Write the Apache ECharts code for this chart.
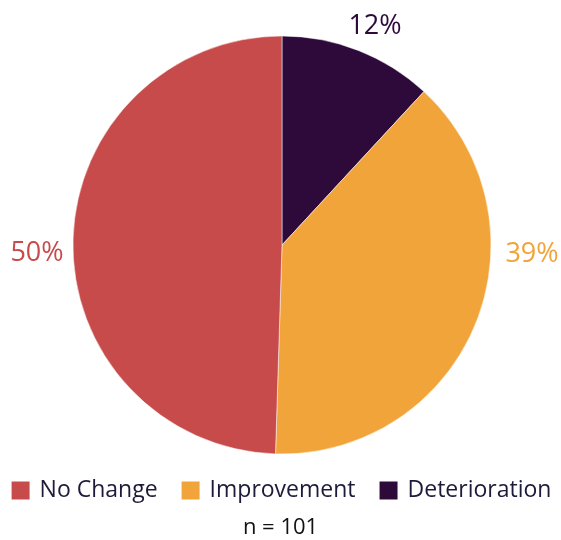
<!DOCTYPE html>
<html>
<head>
<meta charset="utf-8">
<script src="https://cdn.jsdelivr.net/npm/echarts@6/dist/echarts.min.js"></script>
<style>
  html, body { margin: 0; padding: 0; background: #fff; }
  #chart { width: 561px; height: 540px; }
</style>
</head>
<body>
<div id="chart"></div>
<script>
// Respondent counts per outcome, in drawing order (clockwise from 12 o'clock)
const categories = ['Deterioration', 'Improvement', 'No Change'];
const counts = [12, 39, 50];
const colors = ['#2E0A3A', '#F1A43A', '#C84B4B'];
const legendOrder = ['No Change', 'Improvement', 'Deterioration'];

const FONT = 'Open Sans';
const total = counts.reduce((a, b) => a + b, 0);

// Where each percentage label sits relative to the pie
const labelPlacement = {
  'Deterioration': { x: 375, y: 26 },
  'Improvement':   { x: 532, y: 254 },
  'No Change':     { x: 37,  y: 253 }
};

const chart = echarts.init(document.getElementById('chart'), null, { renderer: 'canvas' });

chart.setOption({
  animation: false,
  color: colors,
  title: {
    text: 'n = ' + total,
    left: 'center',
    top: 517,
    padding: 0,
    textStyle: { fontFamily: FONT, fontSize: 22, fontWeight: 'normal', color: '#111' }
  },
  legend: {
    data: legendOrder,
    left: 'center',
    top: 479,
    padding: 0,
    icon: 'rect',
    itemWidth: 20,
    itemHeight: 20,
    itemGap: 22,
    textStyle: { fontFamily: FONT, fontSize: 23, color: '#1E1B3A', padding: [0, 0, 0, 4] }
  },
  series: [{
    type: 'pie',
    center: [282, 245],
    radius: 209,
    startAngle: 90,
    clockwise: true,
    avoidLabelOverlap: false,
    itemStyle: { borderColor: '#fff', borderWidth: 0.5 },
    label: {
      show: true,
      position: 'outside',
      fontFamily: FONT,
      fontSize: 27,
      formatter: p => Math.round(p.value / total * 100) + '%'
    },
    labelLine: { show: false },
    labelLayout: function (params) {
      const pl = labelPlacement[categories[params.dataIndex]];
      return { x: pl.x, y: pl.y, align: 'center', verticalAlign: 'middle' };
    },
    emphasis: { disabled: true },
    data: categories.map((c, i) => ({
      name: c,
      value: counts[i],
      label: { color: colors[i] }
    }))
  }]
});
</script>
</body>
</html>
